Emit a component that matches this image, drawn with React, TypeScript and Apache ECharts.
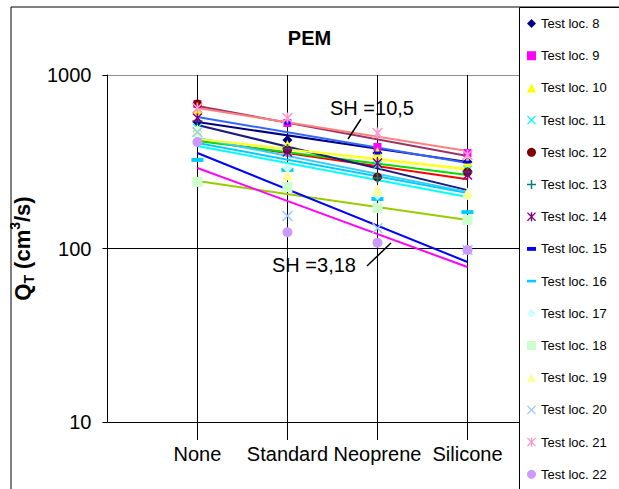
import React, { useEffect, useRef } from 'react';
import * as echarts from 'echarts';

// Seal types along the x axis
const materials = ['None', 'Standard', 'Neoprene', 'Silicone'];
const yTicks = [10, 100, 1000];

// Measured total flow Q_T (cm3/s) per test location, one value per seal type
const loc8 = [536, 422, 355, 315];
const loc9 = [681, 529, 385, 355];
const loc10 = [629, 395, 360, 315];
const loc11 = [495, 370, 303, 284];
const loc12 = [681, 370, 258, 276];
const loc13 = [543, 375, 255, 276];
const loc14 = [565, 360, 311, 265];
const loc15 = [469, 529, 355, 315];
const loc16 = [324, 284, 193, 162];
const loc17 = [451, 291, 203, 203];
const loc18 = [242, 226, 171, 146];
const loc19 = [482, 265, 217, 209];
const loc20 = [469, 154, 131, 98];
const loc21 = [645, 565, 463, 346];
const loc22 = [411, 124, 108, 98];

// Exponential trend lines: value at "None" and at "Silicone"
const trendNone = [536, 663, 428, 406, 422, 573, 417, 515, 390, 434, 245, 428, 355, 645, 291];
const trendSilicone = [315, 341, 287, 209, 251, 311, 265, 217, 198, 212, 146, 284, 83.6, 365, 78.2];

const locNames = [
  'Test loc. 8', 'Test loc. 9', 'Test loc. 10', 'Test loc. 11', 'Test loc. 12',
  'Test loc. 13', 'Test loc. 14', 'Test loc. 15', 'Test loc. 16', 'Test loc. 17',
  'Test loc. 18', 'Test loc. 19', 'Test loc. 20', 'Test loc. 21', 'Test loc. 22',
];
const locValues = [loc8, loc9, loc10, loc11, loc12, loc13, loc14, loc15, loc16, loc17, loc18, loc19, loc20, loc21, loc22];

const X_PATH = 'path://M1,0L5,4L9,0L10,1L6,5L10,9L9,10L5,6L1,10L0,9L4,5L0,1Z';
const PLUS_PATH = 'path://M4.2,0H5.8V4.2H10V5.8H5.8V10H4.2V5.8H0V4.2H4.2Z';
const STAR_PATH = 'path://M1,0L5,4L9,0L10,1L6,5L10,9L9,10L5,6L1,10L0,9L4,5L0,1ZM4.2,0H5.8V10H4.2Z';
const SHORT_DASH = 'path://M0,0H7V3H0Z';
const LONG_DASH = 'path://M0,0H12V3.5H0Z';

const markerSymbols: string[] = [
  'diamond', 'rect', 'triangle', X_PATH, 'circle',
  PLUS_PATH, STAR_PATH, SHORT_DASH, LONG_DASH, 'diamond',
  'rect', 'triangle', X_PATH, STAR_PATH, 'circle',
];
const markerSizes: any[] = [10, 8, 10, 9, 9, 10, 10, [6, 3], [12, 4], 10, 10, 11, 11, 11, 10];
const markerColors = [
  '#000080', '#FF00FF', '#FFFF00', '#00FFFF', '#800000',
  '#008080', '#800080', '#0000FF', '#00CCFF', '#CCFFFF',
  '#CCFFCC', '#FFFF99', '#99CCFF', '#FF99CC', '#CC99FF',
];
const trendColors = [
  '#000080', '#993366', '#FFFF00', '#00CCFF', '#FF0000',
  '#3366FF', '#00DD00', '#1a1a80', '#00FFFF', '#33CCFF',
  '#99CC00', '#FFFF33', '#0000FF', '#FF8080', '#FF00FF',
];

const FONT = '"Liberation Sans", Arial, sans-serif';

export default function App() {
  const ref = useRef<HTMLDivElement>(null);

  useEffect(() => {
    if (!ref.current) return;
    const chart = echarts.init(ref.current, undefined, { renderer: 'svg' });

    const trendSeries = locNames.map((name, i) => ({
      type: 'line',
      name: name + ' trend',
      data: [[1, trendNone[i]], [4, trendSilicone[i]]],
      symbol: 'none',
      silent: true,
      lineStyle: { color: trendColors[i], width: 2 },
      z: 2,
    }));

    const markerSeries = locNames.map((name, i) => ({
      type: 'scatter',
      name,
      data: locValues[i].map((v, j) => [j + 1, v]),
      symbol: markerSymbols[i],
      symbolSize: markerSizes[i],
      itemStyle: { color: markerColors[i], opacity: 1 },
      z: 3,
    }));

    chart.setOption({
      animation: false,
      backgroundColor: '#fff',
      textStyle: { fontFamily: FONT },
      title: {
        text: 'PEM',
        left: 'center',
        top: 23,
        textStyle: { fontSize: 20, fontWeight: 'bold', color: '#000', fontFamily: FONT },
      },
      grid: { left: 105, top: 75, bottom: 67, right: 61.5, containLabel: false },
      xAxis: {
        type: 'value',
        min: 0,
        max: 5,
        interval: 1,
        axisLine: { show: true, lineStyle: { color: '#000', width: 1 } },
        axisTick: { show: true, length: 18, customValues: [1, 2, 3, 4], lineStyle: { color: '#000' } },
        axisLabel: {
          customValues: [1, 2, 3, 4],
          formatter: (v: number) => materials[v - 1] ?? '',
          fontSize: 20,
          color: '#000',
          margin: 22,
          fontFamily: FONT,
        },
        splitLine: { show: true, lineStyle: { color: '#000', width: 1 } },
      },
      yAxis: {
        type: 'log',
        logBase: 10,
        min: yTicks[0],
        max: yTicks[yTicks.length - 1],
        name: '{a|Q}{s|T}{a| (cm}{p|3}{a|/s)}',
        nameLocation: 'middle',
        nameRotate: 90,
        nameGap: 62,
        nameTextStyle: {
          rich: {
            a: { fontSize: 22, fontWeight: 'bold', color: '#000', fontFamily: FONT, lineHeight: 28 },
            s: { fontSize: 14, fontWeight: 'bold', color: '#000', fontFamily: FONT, lineHeight: 28, verticalAlign: 'bottom' },
            p: { fontSize: 14, fontWeight: 'bold', color: '#000', fontFamily: FONT, lineHeight: 28, verticalAlign: 'top' },
          },
        },
        axisLine: { show: true, lineStyle: { color: '#000', width: 1 } },
        axisTick: { show: true, length: 5, lineStyle: { color: '#000' } },
        minorTick: { show: false },
        axisLabel: {
          fontSize: 20,
          color: '#000',
          margin: 16,
          fontFamily: FONT,
          formatter: (v: number) => String(Math.round(v)),
        },
        // plot-area top edge is grey; the 10 line sits under the x axis line
        splitLine: { show: true, lineStyle: { color: ['#909090', '#000', '#909090'], width: 1 } },
      },
      legend: {
        orient: 'vertical',
        left: 519,
        top: 7,
        padding: [10, 10, 0, 8],
        itemWidth: 9,
        itemHeight: 9,
        itemGap: 19.2,
        selectedMode: false,
        textStyle: { fontSize: 13, color: '#000', fontFamily: FONT },
        data: locNames.map((name, i) => ({
          name,
          icon: markerSymbols[i],
          itemStyle: { color: markerColors[i] },
        })),
        z: 10,
      },
      graphic: [
        {
          type: 'rect',
          z: -10,
          silent: true,
          shape: { x: 11, y: 7, width: 800, height: 600 },
          style: { fill: 'none', stroke: '#000', lineWidth: 1 },
        },
        {
          // legend panel, covering the right end of the plot area
          type: 'rect',
          z: 8,
          silent: true,
          shape: { x: 519.5, y: 7.5, width: 300, height: 600 },
          style: { fill: '#fff', stroke: '#000', lineWidth: 1 },
        },
        {
          type: 'text',
          x: 330,
          y: 108,
          z: 20,
          style: { text: 'SH =10,5', fontSize: 20, fontFamily: FONT, fill: '#000', verticalAlign: 'middle' },
        },
        {
          type: 'line',
          z: 20,
          shape: { x1: 361, y1: 119, x2: 348, y2: 139 },
          style: { stroke: '#000', lineWidth: 1.5 },
        },
        {
          type: 'text',
          x: 272,
          y: 265,
          z: 20,
          style: { text: 'SH =3,18', fontSize: 20, fontFamily: FONT, fill: '#000', verticalAlign: 'middle' },
        },
        {
          type: 'line',
          z: 20,
          shape: { x1: 367, y1: 266, x2: 391, y2: 243 },
          style: { stroke: '#000', lineWidth: 1.5 },
        },
      ],
      series: [...trendSeries, ...markerSeries],
    });

    return () => chart.dispose();
  }, []);

  return (
    <div
      ref={ref}
      style={{ position: 'fixed', left: 0, top: 0, width: 619, height: 489, background: '#fff' }}
    />
  );
}
